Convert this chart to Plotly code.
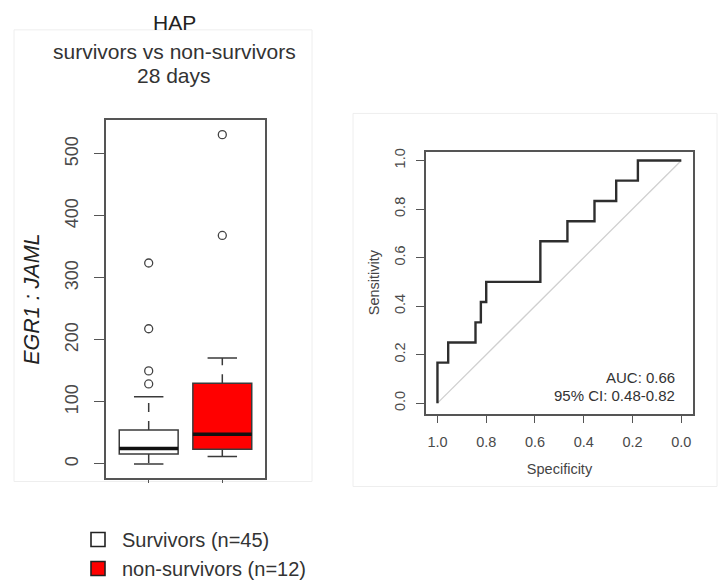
import plotly.graph_objects as go

W, H = 718, 588

# ---------------- data ----------------
groups = ["Survivors (n=45)", "non-survivors (n=12)"]
positions = [1, 2]
box_fill = ["white", "#ff0000"]
q1 = [16, 23.5]
median = [25, 48]
q3 = [54.5, 130]
whisker_low = [0, 12]
whisker_high = [108.5, 171]
outliers = [[129, 150, 218, 324], [368.5, 531]]

y_ticks = [0, 100, 200, 300, 400, 500]

roc_specificity = [1.0, 1.0, 0.956, 0.844, 0.822, 0.8, 0.578, 0.467, 0.356, 0.267, 0.178, 0.0]
roc_sensitivity = [0.0, 0.167, 0.25, 0.333, 0.417, 0.5, 0.667, 0.75, 0.833, 0.917, 1.0, 1.0]
diag_spec = [1.0, 0.0]
diag_sens = [0.0, 1.0]
roc_ticks = [0.0, 0.2, 0.4, 0.6, 0.8, 1.0]
auc_text = "AUC: 0.66"
ci_text = "95% CI: 0.48-0.82"

FONT = "Liberation Sans, Arial, sans-serif"
BOX_W = 0.8
CAP_W = 0.4


def px_x(p):
    return p / W


def px_y(p):
    return 1 - p / H


fig = go.Figure()

# ---------------- box plot ----------------
for i in range(2):
    x = positions[i]
    fig.add_trace(go.Box(
        x=[x], q1=[q1[i]], median=[median[i]], q3=[q3[i]],
        lowerfence=[q1[i]], upperfence=[q3[i]],
        width=BOX_W, fillcolor=box_fill[i],
        line=dict(color="#3a3a3a", width=1.5),
        boxpoints=False, showlegend=False, hoverinfo="skip",
        xaxis="x", yaxis="y",
    ))
    # thick median
    fig.add_trace(go.Scatter(
        x=[x - BOX_W / 2, x + BOX_W / 2], y=[median[i], median[i]],
        mode="lines", line=dict(color="#111111", width=3.5),
        showlegend=False, hoverinfo="skip", xaxis="x", yaxis="y"))
    # dashed whiskers
    for a, b in [(q3[i], whisker_high[i]), (q1[i], whisker_low[i])]:
        fig.add_trace(go.Scatter(
            x=[x, x], y=[a, b], mode="lines",
            line=dict(color="#3a3a3a", width=1.5, dash="dash"),
            showlegend=False, hoverinfo="skip", xaxis="x", yaxis="y"))
    # caps
    for v in [whisker_high[i], whisker_low[i]]:
        fig.add_trace(go.Scatter(
            x=[x - CAP_W / 2, x + CAP_W / 2], y=[v, v], mode="lines",
            line=dict(color="#3a3a3a", width=1.5),
            showlegend=False, hoverinfo="skip", xaxis="x", yaxis="y"))
    # outliers
    fig.add_trace(go.Scatter(
        x=[x] * len(outliers[i]), y=outliers[i], mode="markers",
        marker=dict(symbol="circle-open", size=8, color="#444444",
                    line=dict(width=1.3)),
        showlegend=False, hoverinfo="skip", xaxis="x", yaxis="y"))

# legend entries
for i in range(2):
    fig.add_trace(go.Scatter(
        x=[None], y=[None], mode="markers", name=groups[i],
        legendgroup=f"g{i}",
        marker=dict(symbol="square", size=14, color=box_fill[i],
                    line=dict(color="#222222", width=1.6)),
        xaxis="x", yaxis="y"))

# ---------------- ROC ----------------
fig.add_trace(go.Scatter(
    x=diag_spec, y=diag_sens, mode="lines",
    line=dict(color="#d0d0d0", width=1.3),
    showlegend=False, hoverinfo="skip", xaxis="x2", yaxis="y2"))
fig.add_trace(go.Scatter(
    x=roc_specificity, y=roc_sensitivity, mode="lines", line_shape="hv",
    line=dict(color="#2e2e2e", width=2.4),
    showlegend=False, xaxis="x2", yaxis="y2"))

axis_common = dict(showline=True, mirror=True, linecolor="#555555", linewidth=1.5,
                   showgrid=False, zeroline=False, ticks="outside",
                   tickcolor="#555555", tickwidth=1.2)

fig.update_layout(
    width=W, height=H,
    margin=dict(l=0, r=0, t=0, b=0),
    paper_bgcolor="white", plot_bgcolor="white",
    font=dict(family=FONT, color="#333333"),
    xaxis=dict(domain=[px_x(106), px_x(265)], range=[0.42, 2.58],
               tickvals=positions, ticktext=["", ""], ticklen=3,
               anchor="y", **axis_common),
    yaxis=dict(domain=[px_y(477.3), px_y(118)], range=[-22.5, 554],
               tickvals=y_ticks, ticklen=10, tickangle=-90,
               tickfont=dict(size=18, color="#4a4a4a"),
               ticklabelstandoff=9,
               title=dict(text="<i>EGR1 : JAML</i>", font=dict(size=21.5, color="#222222"),
                          standoff=17),
               anchor="x", **axis_common),
    xaxis2=dict(domain=[px_x(426), px_x(693)], range=[1.047, -0.048],
                tickvals=roc_ticks, ticktext=[f"{v:.1f}" for v in roc_ticks],
                ticklen=8, tickfont=dict(size=14.5, color="#4a4a4a"),
                ticklabelstandoff=6,
                title=dict(text="Specificity", font=dict(size=14.5, color="#444444"),
                           standoff=15),
                anchor="y2", **axis_common),
    yaxis2=dict(domain=[px_y(412.7), px_y(149.3)], range=[-0.043, 1.037],
                tickvals=roc_ticks, ticktext=[f"{v:.1f}" for v in roc_ticks],
                ticklen=8, tickangle=-90, tickfont=dict(size=14.5, color="#4a4a4a"),
                ticklabelstandoff=5,
                title=dict(text="Sensitivity", font=dict(size=14.5, color="#444444"),
                           standoff=9),
                anchor="x2", **axis_common),
    legend=dict(x=px_x(74), y=0.0, xanchor="left", yanchor="bottom",
                font=dict(size=20, color="#333333"), tracegroupgap=0,
                itemwidth=38,
                bgcolor="rgba(0,0,0,0)", itemclick=False),
    shapes=[
        dict(type="rect", xref="paper", yref="paper",
             x0=px_x(14), x1=px_x(312), y0=px_y(481), y1=px_y(27),
             line=dict(color="#eeeeee", width=1), layer="below"),
        dict(type="rect", xref="paper", yref="paper",
             x0=px_x(353), x1=px_x(717), y0=px_y(486), y1=px_y(111),
             line=dict(color="#eeeeee", width=1), layer="below"),
    ],
    annotations=[
        dict(text="HAP", x=px_x(174), y=px_y(20), xref="paper", yref="paper",
             xanchor="center", yanchor="middle",
             showarrow=False, font=dict(size=21, color="#222222")),
        dict(text="survivors vs non-survivors", x=px_x(174), y=px_y(49),
             xref="paper", yref="paper", xanchor="center", yanchor="middle",
             showarrow=False, font=dict(size=21, color="#333333")),
        dict(text="28 days", x=px_x(174), y=px_y(73), xref="paper", yref="paper",
             xanchor="center", yanchor="middle",
             showarrow=False, font=dict(size=21, color="#333333")),
        dict(text=auc_text, x=px_x(677), y=px_y(376), xref="paper", yref="paper",
             xanchor="right", yanchor="middle",
             showarrow=False, font=dict(size=15, color="#333333")),
        dict(text=ci_text, x=px_x(677), y=px_y(395), xref="paper", yref="paper",
             xanchor="right", yanchor="middle",
             showarrow=False, font=dict(size=15, color="#333333")),
    ],
)

fig.write_html("out.html", config={"displayModeBar": False},
               post_script="document.body.style.margin='0px';")
